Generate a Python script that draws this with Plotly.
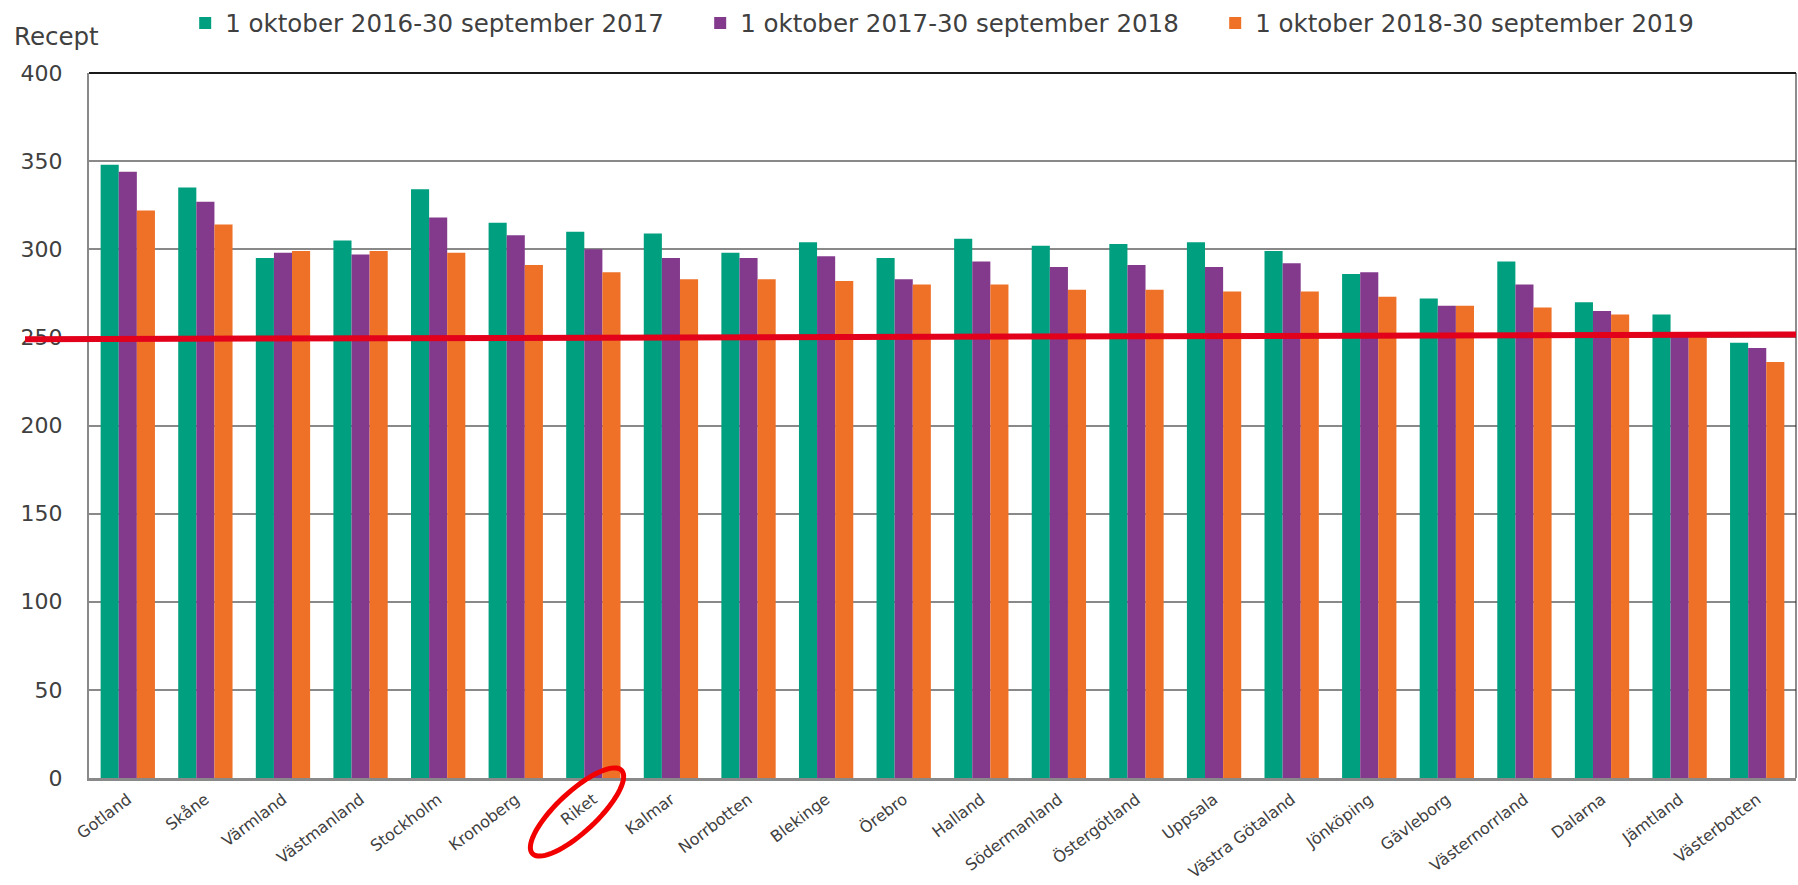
import math
import plotly.graph_objects as go

# 1. Data
# ---------------------------------------------------------
lan = [
    "Gotland", "Skåne", "Värmland", "Västmanland", "Stockholm", "Kronoberg",
    "Riket", "Kalmar", "Norrbotten", "Blekinge", "Örebro", "Halland",
    "Södermanland", "Östergötland", "Uppsala", "Västra Götaland", "Jönköping",
    "Gävleborg", "Västernorrland", "Dalarna", "Jämtland", "Västerbotten",
]

period_2017 = [348, 335, 295, 305, 334, 315, 310, 309, 298, 304, 295,
               306, 302, 303, 304, 299, 286, 272, 293, 270, 263, 247]
period_2018 = [344, 327, 298, 297, 318, 308, 300, 295, 295, 296, 283,
               293, 290, 291, 290, 292, 287, 268, 280, 265, 252, 244]
period_2019 = [322, 314, 299, 299, 298, 291, 287, 283, 283, 282, 280,
               280, 277, 277, 276, 276, 273, 268, 267, 263, 251, 236]

series_names = [
    "1 oktober 2016-30 september 2017",
    "1 oktober 2017-30 september 2018",
    "1 oktober 2018-30 september 2019",
]

# hand drawn red reference line (start / end level)
red_line_levels = [249, 251.6]

# 2. Style
# ---------------------------------------------------------
W, H = 1798, 885
M_L, M_R, M_T, M_B = 89, 2, 73, 107
PLOT_W = W - M_L - M_R
PLOT_H = H - M_T - M_B

colors = ["#009F7F", "#833A8C", "#EE7127"]
FONT = "DejaVu Sans"
TEXT = "#404040"
GRID = "#898989"


def px_to_paper(px, py):
    return (px - M_L) / PLOT_W, (H - M_B - py) / PLOT_H


def ellipse_path(cx, cy, a, b, angle_deg, n=72):
    # rotated ellipse built in pixels, converted to paper coordinates
    t = math.radians(angle_deg)
    pts = []
    for i in range(n + 1):
        th = 2 * math.pi * i / n
        ex, ey = a * math.cos(th), b * math.sin(th)
        x = cx + ex * math.cos(t) + ey * math.sin(t)
        y = cy - ex * math.sin(t) + ey * math.cos(t)
        pts.append(px_to_paper(x, y))
    return "M" + " L".join(f"{x:.5f},{y:.5f}" for x, y in pts) + " Z"


# 3. Figure
# ---------------------------------------------------------
fig = go.Figure()
for name, vals, col in zip(series_names, [period_2017, period_2018, period_2019], colors):
    fig.add_trace(go.Bar(x=lan, y=vals, name=name, marker_color=col,
                         marker_line_width=0))

red_x0, _ = px_to_paper(25, 0)

fig.update_layout(
    width=W, height=H, autosize=False,
    margin=dict(l=M_L, r=M_R, t=M_T, b=M_B),
    plot_bgcolor="white", paper_bgcolor="white",
    barmode="group", bargap=0.3, bargroupgap=0,
    font=dict(family=FONT, color=TEXT),
    legend=dict(orientation="h", xref="container", yref="container",
                x=0.103, y=1 - 23 / H, xanchor="left", yanchor="middle",
                font=dict(size=24.5, family=FONT, color=TEXT),
                entrywidth=470, itemclick=False),
    xaxis=dict(showline=True, linecolor=GRID, linewidth=3, tickangle=-37,
               automargin=False, ticklabelstandoff=3,
               tickfont=dict(size=16, family=FONT, color=TEXT), ticks=""),
    yaxis=dict(range=[0, 400], dtick=50, showgrid=True, gridcolor=GRID,
               gridwidth=1.5, showline=True, linecolor=GRID, linewidth=2,
               zeroline=False, ticks="", ticklabelstandoff=20, automargin=False,
               tickfont=dict(size=22, family=FONT, color=TEXT)),
    shapes=[
        # top and right frame
        dict(type="line", xref="paper", yref="paper", x0=0, x1=1, y0=1, y1=1,
             line=dict(color="#1a1a1a", width=2)),
        dict(type="line", xref="paper", yref="paper", x0=1, x1=1, y0=0, y1=1,
             line=dict(color="#1a1a1a", width=1)),
        # red level line
        dict(type="line", xref="paper", yref="y", x0=red_x0, x1=1,
             y0=red_line_levels[0], y1=red_line_levels[1],
             line=dict(color="#E2001A", width=6)),
        # circle around "Riket"
        dict(type="path", xref="paper", yref="paper",
             path=ellipse_path(577, 812, 61, 20, 43),
             line=dict(color="#F20000", width=5)),
    ],
    annotations=[
        dict(text="Recept", xref="paper", yref="paper",
             x=px_to_paper(12, 0)[0], y=px_to_paper(0, 36)[1],
             xanchor="left", yanchor="middle", showarrow=False,
             font=dict(size=24.5, family=FONT, color=TEXT)),
    ],
)

# page body has a default 8px margin; drop it so the figure sits at 0,0
fig.write_html("out.html", config={"displayModeBar": False},
               post_script="document.body.style.margin='0px';")
